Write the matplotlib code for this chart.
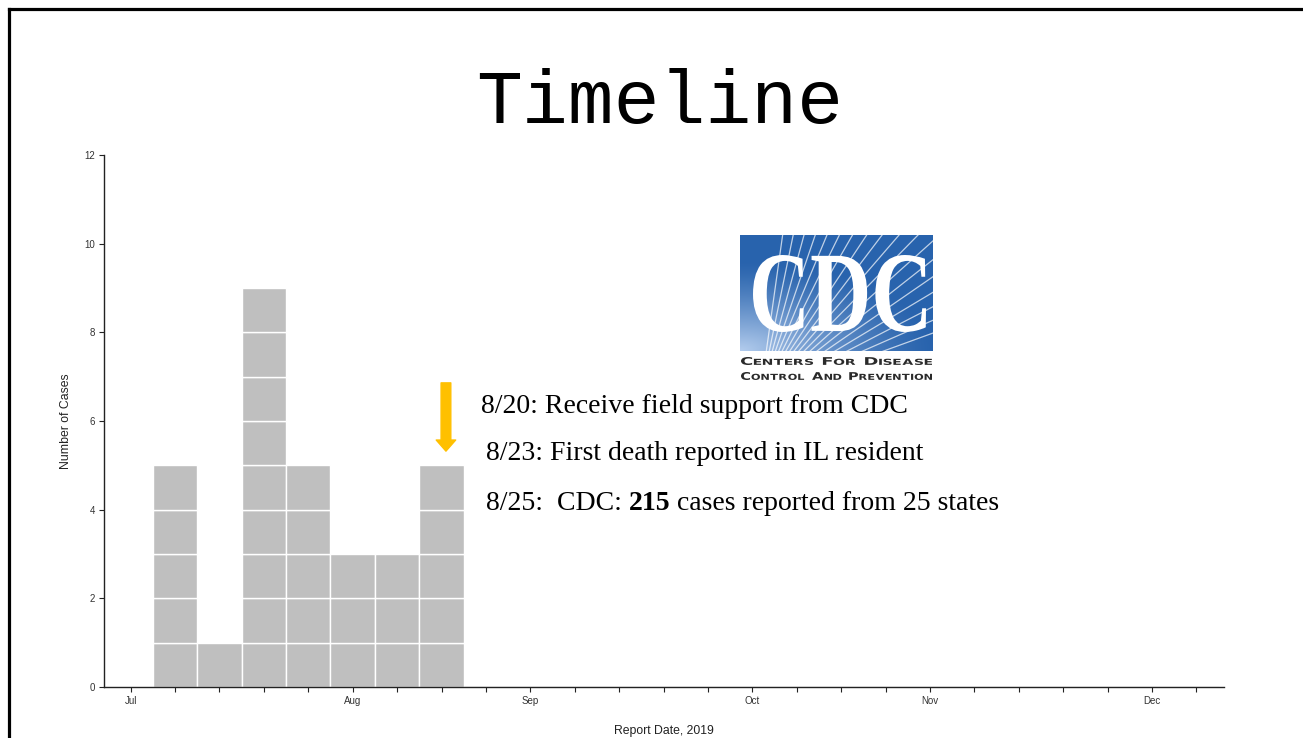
import numpy as np
import matplotlib
matplotlib.use('Agg')
import matplotlib.pyplot as plt
from matplotlib.lines import Line2D
from matplotlib.textpath import TextPath
from matplotlib.patches import PathPatch
from matplotlib.path import Path
from matplotlib.font_manager import FontProperties
from matplotlib.transforms import Affine2D

W, H = 1303, 738

# weekly case counts (week index 0 = first week labelled Jul)
weeks = [1, 2, 3, 4, 5, 6, 7]
cases = [5, 1, 9, 5, 3, 3, 5]
zero_weeks = list(range(8, 25))

tick_weeks = list(range(0, 25))
label_weeks = [0, 5, 9, 14, 18, 23]
month_labels = ['Jul', 'Aug', 'Sep', 'Oct', 'Nov', 'Dec']

events = ['8/20: Receive field support from CDC',
          '8/23: First death reported in IL resident']
event3 = ['8/25:  CDC: ', '215', ' cases reported from 25 states']
arrow_x = 7.1
arrow_from, arrow_to = 6.86, 5.32


def fx(x):
    return x / W


def fy(y):
    return 1 - y / H


def fitted_path(path, x0, y0, x1, y1):
    ext = path.get_extents()
    tr = Affine2D().translate(-ext.x0, -ext.y0).scale((x1 - x0) / ext.width, (y1 - y0) / ext.height).translate(x0, y0)
    return tr.transform_path(path)


def smallcaps(text, prop, small=0.78, track=0.1):
    parts, x = [], 0.0
    for word in text.split(' '):
        for i, ch in enumerate(word):
            p = TextPath((0, 0), ch, size=1.0 if i == 0 else small, prop=prop)
            e = p.get_extents()
            parts.append(Affine2D().translate(x - e.x0, 0).transform_path(p))
            x += e.width + track
        x += 0.45
    return Path.make_compound_path(*parts)


fig = plt.figure(figsize=(W / 100, H / 100), dpi=100)
fig.patch.set_facecolor('white')

# slide frame
fig.add_artist(Line2D([fx(8.5), fx(8.5)], [0, fy(8.5)], color='black', lw=2.3, solid_capstyle='projecting'))
fig.add_artist(Line2D([fx(8.5), 1], [fy(8.5), fy(8.5)], color='black', lw=2.3, solid_capstyle='projecting'))

fig.text(fx(660), fy(123), 'Timeline', family='Liberation Mono', fontsize=55,
         ha='center', va='baseline', color='black')

ax = fig.add_axes([fx(104), fy(687), (1224 - 104) / W, (687 - 155) / H])

for wk, n in zip(weeks, cases):
    for k in range(n):
        ax.bar(wk, 1, bottom=k, width=1.0, color='#BFBFBF', edgecolor='white', linewidth=1.0)
ax.bar(zero_weeks, [0] * len(zero_weeks), width=1.0, color='#BFBFBF', edgecolor='#D9D9D9', linewidth=1)

ax.set_xlim(-0.6, 24.62)
ax.set_ylim(0, 12)
ax.set_yticks(range(0, 13, 2))
ax.set_xticks(tick_weeks)
ax.set_xticklabels([month_labels[label_weeks.index(t)] if t in label_weeks else '' for t in tick_weeks])
for s in ['top', 'right']:
    ax.spines[s].set_visible(False)
for s in ['left', 'bottom']:
    ax.spines[s].set_linewidth(1.0)
    ax.spines[s].set_color('#222222')
ax.tick_params(axis='both', length=3.5, width=0.8, color='#222222', labelsize=7,
               labelcolor='#333333', pad=3)
for lab in ax.get_xticklabels() + ax.get_yticklabels():
    lab.set_family('Liberation Sans')
ax.set_ylabel('Number of Cases', family='Liberation Sans', fontsize=8.8, color='#222222', labelpad=9)
ax.set_xlabel('Report Date, 2019', family='Liberation Sans', fontsize=8.8, color='#222222', labelpad=14)

ax.annotate('', xy=(arrow_x, arrow_to), xytext=(arrow_x, arrow_from),
            arrowprops=dict(width=7, headwidth=14, headlength=8, color='#FFC000', shrink=0))

# event notes
serif = dict(family='Liberation Serif', fontsize=20, color='black')
fig.text(fx(481), fy(413), events[0], ha='left', va='baseline', **serif)
fig.text(fx(486), fy(460), events[1], ha='left', va='baseline', **serif)
t = fig.text(fx(486), fy(516), event3[0], ha='left', va='bottom', **serif)
t = ax.annotate(event3[1], xy=(1, 0), xycoords=t, ha='left', va='bottom', fontweight='bold', **serif)
ax.annotate(event3[2], xy=(1, 0), xycoords=t, ha='left', va='bottom', **serif)

# CDC logo (box 740..933 x 235..351, captions below)
lx0, ly0, lw_, lh_ = 740, 235, 193, 150
box_h = 116
lax = fig.add_axes([fx(lx0), fy(ly0 + lh_), lw_ / W, lh_ / H])
gx, gy = np.meshgrid(np.linspace(0, 1, 200), np.linspace(0, 1, 120))
glow = np.clip(1 - np.hypot(gx * 1.0, gy * 1.3), 0, 1) ** 1.3
dark = np.array([0.16, 0.39, 0.68])
light = np.array([0.70, 0.80, 0.93])
img = dark[None, None, :] * (1 - glow[..., None]) + light[None, None, :] * glow[..., None]
base = lh_ - box_h
lax.imshow(img, extent=(0, lw_, base, lh_), origin='lower', aspect='auto', zorder=1)
clip = plt.Rectangle((0, base), lw_, box_h, transform=lax.transData)
ox, oy = 20, base - 45
for ang in np.linspace(20, 82, 18):
    r = np.radians(ang)
    x2, y2 = ox + 400 * np.cos(r), oy + 400 * np.sin(r)
    ln, = lax.plot([ox, x2], [oy, y2], color='white', lw=0.9, alpha=0.7, zorder=2)
    ln.set_clip_path(clip)
cdc = TextPath((0, 0), 'CDC', size=1, prop=FontProperties(family='Liberation Serif', weight='bold'))
lax.add_patch(PathPatch(fitted_path(cdc, 13, base + 19, 186, base + 96), facecolor='white', edgecolor='none', zorder=3))

cap_prop = FontProperties(family='DejaVu Sans', weight='bold')
lax.add_patch(PathPatch(fitted_path(smallcaps('CENTERS FOR DISEASE', cap_prop), 1, base - 14, 192, base - 6),
                        facecolor='#2a2a2a', edgecolor='none'))
lax.add_patch(PathPatch(fitted_path(smallcaps('CONTROL AND PREVENTION', cap_prop), 1, base - 29, 192, base - 21),
                        facecolor='#2a2a2a', edgecolor='none'))
lax.set_xlim(0, lw_)
lax.set_ylim(0, lh_)
lax.axis('off')

fig.savefig('out.png', dpi=100)
